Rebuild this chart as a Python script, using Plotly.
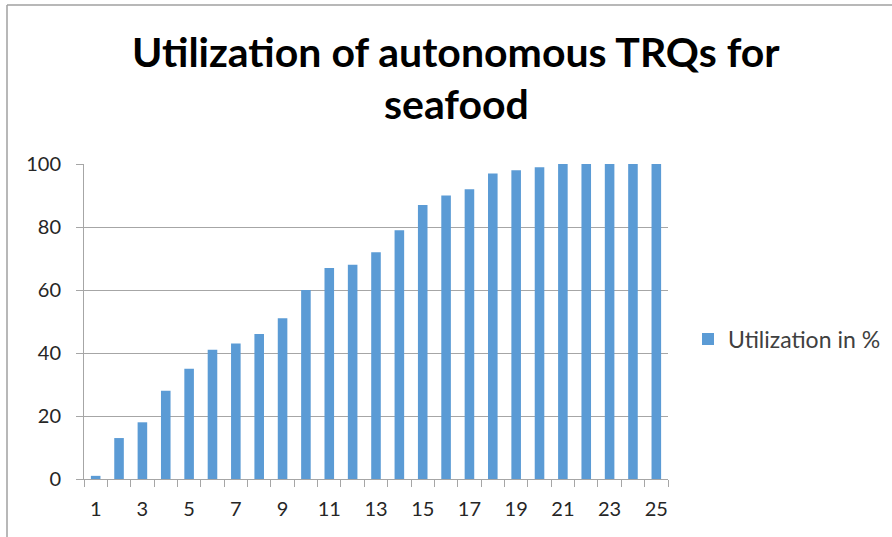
import plotly.graph_objects as go

categories = list(range(1, 26))
utilization = [1, 13, 18, 28, 35, 41, 43, 46, 51, 60, 67, 68, 72, 79, 87, 90, 92, 97, 98, 99, 100, 100, 100, 100, 100]
tick_labels = [str(c) for c in categories if c % 2 == 1]
tick_positions = [c for c in categories if c % 2 == 1]
title_lines = ["Utilization of autonomous TRQs for", "seafood"]
series_name = "Utilization in %"

L, R, T, B = 84, 224, 164, 58
W, H = 892, 537
PW, PH = W - L - R, H - T - B


def px_x(x):
    return (x - L) / PW


def px_y(y):
    return (H - B - y) / PH


fig = go.Figure()
fig.add_trace(go.Bar(
    x=categories, y=utilization, name=series_name,
    marker=dict(color="#5B9BD5", line=dict(width=0)),
))

fig.update_layout(
    width=W, height=H,
    margin=dict(l=L, r=R, t=T, b=B, autoexpand=False),
    paper_bgcolor="white", plot_bgcolor="white",
    font=dict(family="Lato, 'Open Sans', sans-serif", size=20, color="#262626"),
    bargap=0.59,
    showlegend=True,
    legend=dict(xref="container", yref="container", x=688 / W, xanchor="left",
                y=(H - 339) / H, yanchor="middle",
                font=dict(size=23, color="#404040"), bgcolor="rgba(0,0,0,0)"),
    xaxis=dict(
        range=[0.5, 25.5], tickmode="array", tickvals=tick_positions, ticktext=tick_labels,
        ticks="", showgrid=False, zeroline=False, showline=True, linecolor="#a6a6a6", linewidth=1,
        tickfont=dict(size=20, color="#262626"), ticklabelstandoff=12,
        minor=dict(tickmode="linear", tick0=0.5, dtick=1, ticks="outside", ticklen=7,
                   tickcolor="#a6a6a6", showgrid=False),
        automargin=False,
    ),
    yaxis=dict(
        range=[0, 100], tickmode="array", tickvals=[0, 20, 40, 60, 80, 100],
        showgrid=True, gridcolor="#a6a6a6", gridwidth=1, zeroline=False,
        showline=True, linecolor="#a6a6a6", ticks="outside", ticklen=7, tickcolor="#a6a6a6",
        tickfont=dict(size=20, color="#262626"), ticklabelstandoff=11,
        automargin=False,
    ),
    annotations=[
        dict(text="<b>%s</b>" % title_lines[0], xref="paper", yref="paper", x=px_x(456), y=px_y(52),
             xanchor="center", yanchor="middle", showarrow=False,
             font=dict(family="Lato, 'Open Sans', sans-serif", size=41, color="black")),
        dict(text="<b>%s</b>" % title_lines[1], xref="paper", yref="paper", x=px_x(456), y=px_y(103),
             xanchor="center", yanchor="middle", showarrow=False,
             font=dict(family="Lato, 'Open Sans', sans-serif", size=41, color="black")),
    ],
    shapes=[
        dict(type="line", xref="paper", yref="paper", x0=px_x(7), x1=px_x(892), y0=px_y(5), y1=px_y(5),
             line=dict(color="#a0a0a0", width=1.5)),
        dict(type="line", xref="paper", yref="paper", x0=px_x(7), x1=px_x(7), y0=px_y(5), y1=px_y(537),
             line=dict(color="#a0a0a0", width=1.5)),
    ],
)

fig.write_html("out.html", post_script="document.body.style.margin='0px';",
               config={"displayModeBar": False})
